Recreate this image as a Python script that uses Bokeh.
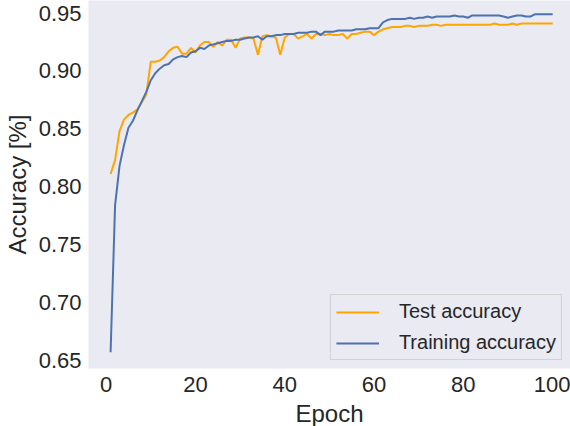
from bokeh.plotting import figure
from bokeh.models import FixedTicker, NumeralTickFormatter, Range1d, Legend, LegendItem
from bokeh.embed import file_html
from bokeh.resources import INLINE

epochs = list(range(1, 101))

test_accuracy = [
    0.811, 0.823, 0.848, 0.858, 0.862, 0.864, 0.867, 0.873, 0.880, 0.908,
    0.908, 0.909, 0.912, 0.917, 0.920, 0.921, 0.915, 0.915, 0.920, 0.916,
    0.922, 0.925, 0.925, 0.921, 0.925, 0.922, 0.927, 0.927, 0.920, 0.928,
    0.929, 0.929, 0.928, 0.914, 0.930, 0.931, 0.930, 0.929, 0.914, 0.929,
    0.932, 0.932, 0.928, 0.930, 0.932, 0.928, 0.932, 0.932, 0.931, 0.932,
    0.931, 0.931, 0.932, 0.928, 0.932, 0.932, 0.933, 0.934, 0.934, 0.931,
    0.934, 0.936, 0.937, 0.938, 0.938, 0.938, 0.939, 0.939, 0.938, 0.939,
    0.939, 0.939, 0.940, 0.940, 0.939, 0.940, 0.940, 0.940, 0.940, 0.940,
    0.940, 0.940, 0.940, 0.940, 0.940, 0.940, 0.941, 0.940, 0.940, 0.940,
    0.941, 0.940, 0.941, 0.941, 0.941, 0.941, 0.941, 0.941, 0.941, 0.941,
]

training_accuracy = [
    0.657, 0.784, 0.818, 0.836, 0.851, 0.857, 0.866, 0.874, 0.882, 0.892,
    0.898, 0.902, 0.905, 0.906, 0.910, 0.912, 0.913, 0.912, 0.916, 0.917,
    0.920, 0.919, 0.922, 0.923, 0.924, 0.925, 0.926, 0.926, 0.927, 0.927,
    0.928, 0.929, 0.929, 0.930, 0.927, 0.930, 0.930, 0.931, 0.931, 0.932,
    0.932, 0.932, 0.933, 0.933, 0.933, 0.934, 0.934, 0.931, 0.934, 0.934,
    0.934, 0.935, 0.935, 0.935, 0.935, 0.936, 0.936, 0.936, 0.937, 0.937,
    0.937, 0.942, 0.944, 0.945, 0.945, 0.945, 0.945, 0.946, 0.945, 0.946,
    0.946, 0.947, 0.946, 0.947, 0.947, 0.947, 0.947, 0.948, 0.947, 0.947,
    0.946, 0.948, 0.948, 0.948, 0.948, 0.948, 0.948, 0.948, 0.947, 0.946,
    0.947, 0.948, 0.948, 0.947, 0.947, 0.949, 0.949, 0.949, 0.949, 0.949,
]

x_ticks = [0, 20, 40, 60, 80, 100]
y_ticks = [0.65, 0.70, 0.75, 0.80, 0.85, 0.90, 0.95]

FONT = "Liberation Sans"
TXT = "#262626"

p = figure(width=570, height=429, output_backend="svg", toolbar_location=None,
           x_range=Range1d(-3.95, 104.0), y_range=Range1d(0.64298, 0.9609),
           min_border_left=83, min_border_right=0, min_border_top=0, min_border_bottom=46)

p.background_fill_color = "#EAEAF2"
p.border_fill_color = "white"
p.outline_line_color = None
p.xgrid.grid_line_color = None
p.ygrid.grid_line_color = None

for ax in (p.xaxis[0], p.yaxis[0]):
    ax.axis_line_color = None
    ax.major_tick_line_color = None
    ax.minor_tick_line_color = None
    ax.major_tick_out = 0
    ax.major_tick_in = 0
    ax.minor_tick_out = 0
    ax.minor_tick_in = 0
    ax.major_label_text_font = FONT
    ax.major_label_text_font_size = "22px"
    ax.major_label_text_color = TXT
    ax.major_label_text_line_height = 1.0
    ax.axis_label_text_font = FONT
    ax.axis_label_text_font_size = "24px"
    ax.axis_label_text_font_style = "normal"
    ax.axis_label_text_color = TXT
    ax.axis_label_text_line_height = 1.0

p.xaxis.major_label_standoff = 8
p.xaxis.axis_label_standoff = 5
p.yaxis.major_label_standoff = 7
p.yaxis.axis_label_standoff = 5

p.xaxis.ticker = FixedTicker(ticks=x_ticks)
p.yaxis.ticker = FixedTicker(ticks=y_ticks)
p.yaxis.formatter = NumeralTickFormatter(format="0.00")
p.xaxis.axis_label = "Epoch"
p.yaxis.axis_label = "Accuracy [%]"

r1 = p.line(epochs, test_accuracy, line_color="#FFA500", line_width=2)
r2 = p.line(epochs, training_accuracy, line_color="#4C72B0", line_width=2)

legend = Legend(items=[LegendItem(label="Test accuracy", renderers=[r1]),
                       LegendItem(label="Training accuracy", renderers=[r2])],
                location="bottom_right")
legend.margin = 8
legend.padding = 5
legend.spacing = 8
legend.glyph_width = 43
legend.glyph_height = 22
legend.label_height = 22
legend.label_standoff = 20
legend.label_text_font = FONT
legend.label_text_font_size = "20px"
legend.label_text_color = TXT
legend.background_fill_color = "#EAEAF2"
legend.background_fill_alpha = 0.8
legend.border_line_color = "#CCCCCC"
legend.border_line_alpha = 0.8
legend.border_line_width = 1
p.add_layout(legend, "center")

open("out.html", "w").write(file_html(p, INLINE))
